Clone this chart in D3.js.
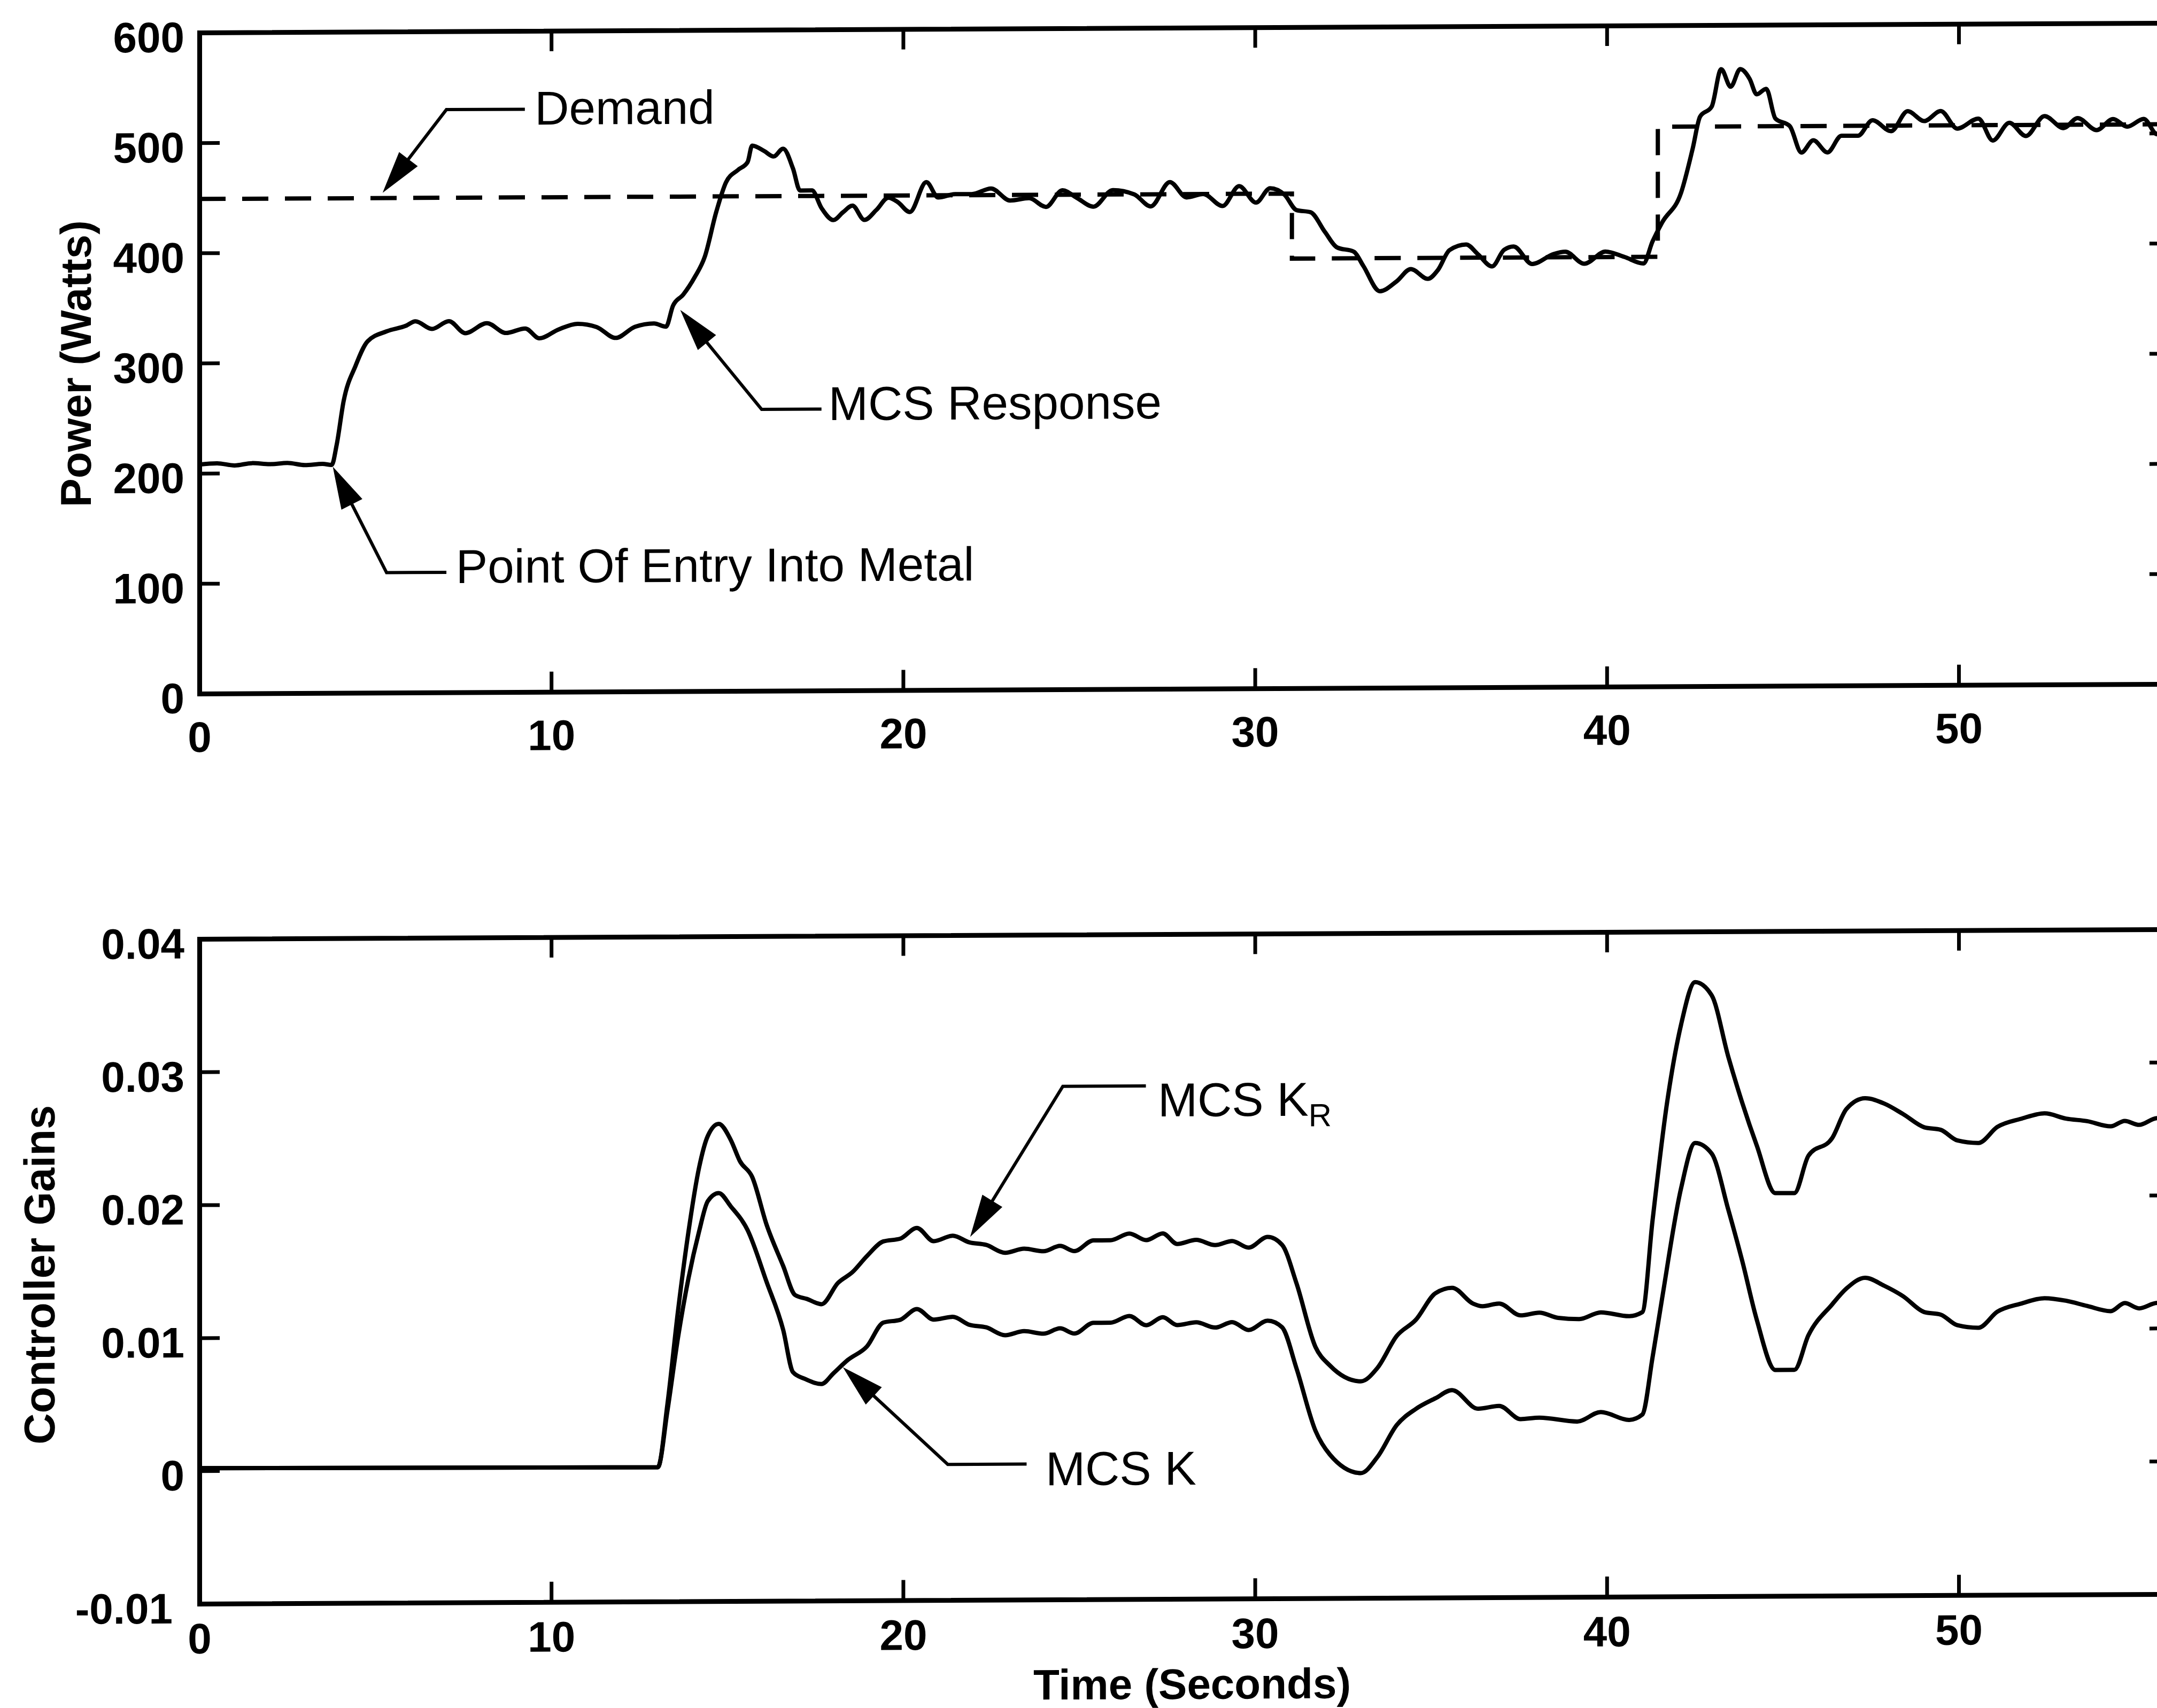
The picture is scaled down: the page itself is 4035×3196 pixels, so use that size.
<!DOCTYPE html>
<html><head><meta charset="utf-8">
<script src="https://cdn.jsdelivr.net/npm/d3@7"></script>
<style>html,body{margin:0;padding:0;background:#fff}svg{display:block}</style>
</head><body>
<svg id="chart" width="4035" height="3196"></svg>
<script>
// ---------------- DATA ----------------
const xTicks = [0, 10, 20, 30, 40, 50];
const powerTicks = [0, 100, 200, 300, 400, 500, 600];
const gainTicks = [-0.01, 0, 0.01, 0.02, 0.03, 0.04];
const gainTickLabels = ["-0.01", "0", "0.01", "0.02", "0.03", "0.04"];

const powerTime = [0,0.5,1.0,1.5,2.0,2.5,3.0,3.5,3.76,3.9,4.1,4.44,4.78,5.32,5.87,6.14,6.61,7.09,7.56,8.17,8.71,9.26,9.66,10.21,10.75,11.29,11.83,12.38,12.92,13.26,13.46,13.75,14.08,14.36,14.69,14.97,15.31,15.58,15.71,16.05,16.32,16.59,16.87,17.07,17.41,17.68,18.02,18.29,18.56,18.9,19.24,19.58,19.85,20.19,20.66,21.0,21.48,21.95,22.5,23.04,23.58,24.06,24.53,24.94,25.41,25.96,26.57,27.04,27.58,28.06,28.53,29.08,29.55,30.03,30.43,30.84,31.18,31.58,31.99,32.33,32.81,33.08,33.55,34.03,34.43,34.91,35.2,35.53,36.0,36.34,36.74,37.08,37.35,37.88,38.49,38.82,39.36,39.96,40.5,41.04,41.3,41.57,42.11,42.44,42.65,42.98,43.25,43.52,43.79,44.06,44.26,44.53,44.79,45.2,45.53,45.87,46.27,46.67,47.14,47.55,48.08,48.55,49.02,49.49,49.96,50.56,50.97,51.44,51.91,52.44,52.98,53.38,53.92,54.39,54.79,55.26,55.64,56];
const mcsResponse = [208,209,207,209,208,209,207,208,207,225,265,297,319,328,333,337,330,337,326,335,326,330,321,329,334,331,321,331,334,331,350,360,376,394,435,462,473,480,495,490,485,492,474,454,454,438,427,434,440,427,436,447,443,434,461,447,450,450,455,444,446,438,453,446,438,453,449,438,460,446,449,438,456,441,454,448,434,432,414,400,396,383,360,369,380,371,379,397,402,393,382,397,400,384,393,395,384,395,390,384,404,421,448,488,517,526,560,544,560,551,537,542,515,508,484,495,484,499,499,513,503,521,512,521,505,514,494,510,498,516,505,514,503,513,506,513,499,506];

const demandTime = [0, 31.05, 31.05, 41.45, 41.45, 56];
const demandPower = [449, 449, 390, 390, 508, 508];

const kRTime = [0,13.03,13.3,13.6,13.9,14.2,14.45,14.76,15.1,15.36,15.71,16.12,16.59,16.93,17.27,17.68,18.15,18.56,18.97,19.44,19.92,20.39,20.87,21.41,21.88,22.36,22.9,23.44,23.99,24.46,24.87,25.41,25.89,26.43,26.91,27.38,27.79,28.33,28.87,29.35,29.82,30.36,30.77,31.18,31.72,32.13,33.01,33.48,34.03,34.57,35.13,35.6,36.2,36.47,36.94,37.55,38.08,38.62,39.22,39.83,40.63,41.01,41.3,41.71,42.11,42.51,42.98,43.45,43.85,44.26,44.79,45.33,45.73,46.4,46.81,47.34,47.88,48.42,49.02,49.49,49.96,50.56,51.1,51.77,52.44,53.05,53.65,54.32,54.72,55.13,55.64,56];
const kRGain = [0.0002,0.0001,0.0048,0.0118,0.0178,0.0226,0.0250,0.0259,0.0247,0.0231,0.0219,0.0183,0.0152,0.0130,0.0127,0.0123,0.0139,0.0147,0.0159,0.0170,0.0172,0.0180,0.0170,0.0174,0.0169,0.0167,0.0161,0.0164,0.0162,0.0166,0.0162,0.0170,0.0170,0.0175,0.0170,0.0175,0.0167,0.0170,0.0166,0.0169,0.0164,0.0172,0.0166,0.0137,0.0089,0.0075,0.0063,0.0073,0.0097,0.0109,0.0129,0.0133,0.0121,0.0119,0.0121,0.0112,0.0114,0.0110,0.0109,0.0114,0.0111,0.0114,0.0183,0.0271,0.0330,0.0362,0.0352,0.0306,0.0271,0.0239,0.0203,0.0203,0.0231,0.0244,0.0266,0.0274,0.0270,0.0262,0.0252,0.0250,0.0242,0.0240,0.0252,0.0258,0.0262,0.0258,0.0256,0.0252,0.0256,0.0253,0.0258,0.0255];

const kTime = [0,13.03,13.3,13.6,13.9,14.2,14.45,14.76,15.1,15.58,16.12,16.59,16.87,17.2,17.68,18.02,18.43,18.97,19.44,19.92,20.39,20.87,21.41,21.88,22.36,22.9,23.44,23.99,24.46,24.87,25.41,25.89,26.43,26.91,27.38,27.79,28.33,28.87,29.35,29.82,30.36,30.77,31.18,31.72,32.13,33.01,33.48,34.03,34.57,35.13,35.6,36.34,36.94,37.55,38.08,39.16,39.83,40.63,41.01,41.3,41.57,42.11,42.51,42.98,43.45,43.85,44.26,44.79,45.33,45.73,46.4,46.81,47.34,47.88,48.42,49.02,49.49,49.96,50.56,51.1,51.77,52.44,53.05,53.65,54.32,54.72,55.13,55.64,56];
const kGain = [0.0002,0.0001,0.0043,0.0098,0.0143,0.0178,0.0201,0.0207,0.0197,0.0179,0.0140,0.0104,0.0072,0.0067,0.0063,0.0071,0.0081,0.0091,0.0109,0.0111,0.0119,0.0111,0.0113,0.0107,0.0105,0.0099,0.0102,0.0100,0.0104,0.0100,0.0108,0.0108,0.0113,0.0106,0.0112,0.0106,0.0108,0.0104,0.0108,0.0102,0.0109,0.0104,0.0073,0.0026,0.0008,-0.0006,0.0006,0.0030,0.0042,0.0050,0.0056,0.0042,0.0044,0.0034,0.0035,0.0032,0.0039,0.0033,0.0037,0.0080,0.0124,0.0207,0.0241,0.0233,0.0191,0.0152,0.0108,0.0070,0.0070,0.0096,0.0119,0.0131,0.0139,0.0133,0.0125,0.0113,0.0111,0.0103,0.0101,0.0113,0.0119,0.0123,0.0121,0.0117,0.0113,0.0119,0.0115,0.0119,0.0117];

// annotations (anchored in data coordinates)
const powerNotes = [
  {text: "Demand", tipT: 5.26, tipV: 456, elbowT: 7.02, elbowV: 529, lineEndT: 9.25, textT: 9.53, textV: 515},
  {text: "MCS Response", tipT: 13.72, tipV: 344, elbowT: 15.98, elbowV: 255.5, lineEndT: 17.68, textT: 17.88, textV: 245.5},
  {text: "Point Of Entry Into Metal", tipT: 3.83, tipV: 203, elbowT: 5.32, elbowV: 109, lineEndT: 7.02, textT: 7.29, textV: 99.3}
];
const gainNotes = [
  {text: "MCS K", sub: "R", tipT: 21.95, tipV: 0.0175, elbowT: 24.54, elbowV: 0.0286, lineEndT: 26.9, textT: 27.24, textV: 0.0263},
  {text: "MCS K", tipT: 18.35, tipV: 0.0074, elbowT: 21.27, elbowV: 0.0002, lineEndT: 23.51, textT: 24.05, textV: -0.0014}
];

// ---------------- LAYOUT ----------------
const FONT = "'Liberation Sans', Arial, Helvetica, sans-serif";
const svg = d3.select("#chart");
svg.append("rect").attr("width", 4035).attr("height", 3196).attr("fill", "#fff");
// the scanned figure is very slightly sheared (right side higher)
const root = svg.append("g").attr("transform", "translate(373,0) skewY(-0.2825) translate(-373,0)");

const xMax = 56;
const x = d3.scaleLinear().domain([0, xMax]).range([373, 373 + xMax * 65.82]);
const yP = d3.scaleLinear().domain([0, 600]).range([1298, 61]);
const yG = d3.scaleLinear().domain([-0.01, 0.04]).range([3001, 1757]);

function styleAxis(g) {
  g.attr("font-family", FONT).attr("font-size", 80).attr("font-weight", "bold");
  g.select(".domain").attr("stroke", "#000").attr("stroke-width", 9).attr("stroke-linecap", "square");
  g.selectAll(".tick line").attr("stroke", "#000").attr("stroke-width", 7);
  g.selectAll(".tick text").attr("fill", "#000");
}

function frame(y, yTickVals, yFmt, labelPad) {
  const [b, t] = y.range();
  const g = root.append("g");
  const gb = g.append("g").attr("transform", `translate(0,${b})`)
    .call(d3.axisBottom(x).tickValues(xTicks).tickFormat(d3.format("d"))
      .tickSizeInner(-38).tickSizeOuter(0).tickPadding(labelPad));
  styleAxis(gb);
  const gt = g.append("g").attr("transform", `translate(0,${t})`)
    .call(d3.axisTop(x).tickValues(xTicks).tickFormat(() => "")
      .tickSizeInner(-38).tickSizeOuter(0));
  styleAxis(gt);
  const gl = g.append("g").attr("transform", `translate(${x(0)},0)`)
    .call(d3.axisLeft(y).tickValues(yTickVals).tickFormat(yFmt)
      .tickSizeInner(-38).tickSizeOuter(0).tickPadding(28));
  styleAxis(gl);
  gl.selectAll(".tick text").attr("dy", "0.45em");
  const gr = g.append("g").attr("transform", `translate(${x(xMax)},0)`)
    .call(d3.axisRight(y).tickValues(yTickVals).tickFormat(() => "")
      .tickSizeInner(-38).tickSizeOuter(0));
  styleAxis(gr);
  return gl;
}

frame(yP, powerTicks, d3.format("d"), 52);
const glG = frame(yG, gainTicks, d => gainTickLabels[gainTicks.indexOf(d)], 36);
glG.selectAll(".tick text").filter(d => d < 0).attr("dx", -22);

// ---------------- LINES ----------------
const linePower = d3.line().x(d => x(d[0])).y(d => yP(d[1])).curve(d3.curveMonotoneX);
const lineDemand = d3.line().x(d => x(d[0])).y(d => yP(d[1]));
const lineGain = d3.line().x(d => x(d[0])).y(d => yG(d[1])).curve(d3.curveMonotoneX);

root.append("path").datum(demandTime.map((t, i) => [t, demandPower[i]]))
  .attr("d", lineDemand).attr("fill", "none").attr("stroke", "#000")
  .attr("stroke-width", 8).attr("stroke-dasharray", "49 31");
root.append("path").datum(powerTime.map((t, i) => [t, mcsResponse[i]]))
  .attr("d", linePower).attr("fill", "none").attr("stroke", "#000")
  .attr("stroke-width", 8).attr("stroke-linejoin", "round");
root.append("path").datum(kRTime.map((t, i) => [t, kRGain[i]]))
  .attr("d", lineGain).attr("fill", "none").attr("stroke", "#000")
  .attr("stroke-width", 8).attr("stroke-linejoin", "round");
root.append("path").datum(kTime.map((t, i) => [t, kGain[i]]))
  .attr("d", lineGain).attr("fill", "none").attr("stroke", "#000")
  .attr("stroke-width", 8).attr("stroke-linejoin", "round");

// ---------------- ANNOTATIONS ----------------
function annotate(n, y) {
  const tip = [x(n.tipT), y(n.tipV)];
  const elbow = [x(n.elbowT), y(n.elbowV)];
  const lineEnd = [x(n.lineEndT), y(n.elbowV)];
  const dxv = tip[0] - elbow[0], dyv = tip[1] - elbow[1];
  const len = Math.hypot(dxv, dyv);
  const ux = dxv / len, uy = dyv / len;
  const L = 72, hw = 20;
  const base = [tip[0] - ux * L, tip[1] - uy * L];
  root.append("path")
    .attr("d", d3.line()([lineEnd, elbow, base]))
    .attr("fill", "none").attr("stroke", "#000").attr("stroke-width", 6);
  root.append("path")
    .attr("d", d3.line()([tip, [base[0] - uy * hw, base[1] + ux * hw], [base[0] + uy * hw, base[1] - ux * hw]]) + "Z")
    .attr("fill", "#000").attr("stroke", "#000").attr("stroke-width", 3).attr("stroke-linejoin", "miter");
  const t = root.append("text").attr("x", x(n.textT)).attr("y", y(n.textV))
    .attr("font-family", FONT).attr("font-size", 89).attr("fill", "#000").text(n.text);
  if (n.sub) {
    t.append("tspan").attr("font-size", 60).attr("dy", 20).text(n.sub);
  }
}
powerNotes.forEach(n => annotate(n, yP));
gainNotes.forEach(n => annotate(n, yG));

// ---------------- AXIS TITLES ----------------
root.append("text").attr("transform", `translate(170,${(yP(0) + yP(600)) / 2}) rotate(-90)`)
  .attr("text-anchor", "middle").attr("font-family", FONT).attr("font-weight", "bold")
  .attr("font-size", 81).attr("fill", "#000").text("Power (Watts)");
root.append("text").attr("transform", `translate(102,${2384}) rotate(-90)`)
  .attr("text-anchor", "middle").attr("font-family", FONT).attr("font-weight", "bold")
  .attr("font-size", 81).attr("fill", "#000").text("Controller Gains");
root.append("text").attr("x", 2230).attr("y", 3188)
  .attr("text-anchor", "middle").attr("font-family", FONT).attr("font-weight", "bold")
  .attr("font-size", 80).attr("fill", "#000").text("Time (Seconds)");
</script>
</body></html>
